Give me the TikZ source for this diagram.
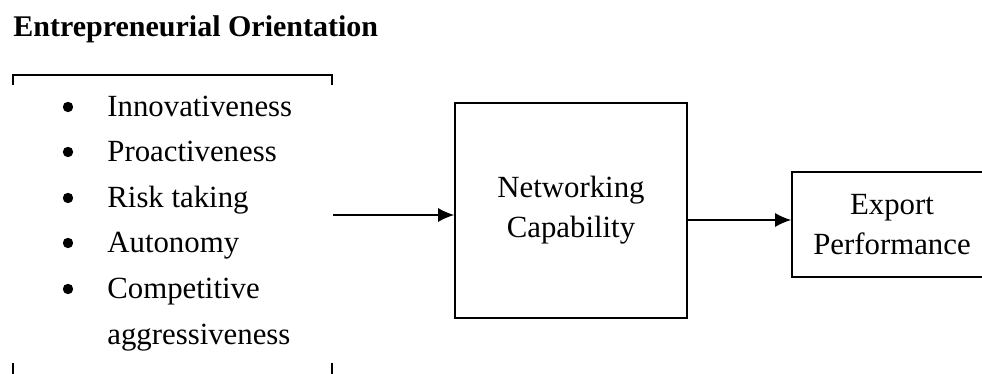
\documentclass[tikz,border=0pt]{standalone}
\usepackage{fontspec}
\setmainfont{Liberation Serif}
\usetikzlibrary{arrows.meta}
\begin{document}
\begin{tikzpicture}[x=0.5pt,y=-0.5pt,
  every node/.style={inner sep=0pt, font=\fontsize{15.4}{20}\selectfont},
  item/.style={anchor=base west},
  bul/.style={circle, fill, inner sep=0pt, minimum size=5.2pt},
  boxnode/.style={draw, line width=0.8pt, align=center},
  line/.style={line width=0.8pt},
  arr/.style={line width=0.8pt, -{Latex[length=8pt,width=7pt]}}]
\useasboundingbox (0,0) rectangle (982,374);
\clip (0,0) rectangle (982,374);
\node[anchor=base west, font=\fontsize{15}{20}\selectfont\bfseries] (title) at (13,37) {Entrepreneurial Orientation};
% bracket box
\coordinate (tl) at (13,75);
\coordinate (tr) at (332,75);
\coordinate (bl) at (13,363);
\coordinate (br) at (332,363);
\draw[line] ([yshift=-5pt]tl) -- (tl) -- (tr) -- ([yshift=-5pt]tr);
\draw[line] (bl) -- ([yshift=-8pt]bl);
\draw[line] (br) -- ([yshift=-8pt]br);
% items
\node[bul] (b1) at (68,107) {};
\node[item] (i1) at (107,117) {Innovativeness};
\node[bul] (b2) at (68,152) {};
\node[item] (i2) at (107,162) {Proactiveness};
\node[bul] (b3) at (68,198) {};
\node[item] (i3) at (107,208) {Risk taking};
\node[bul] (b4) at (68,243) {};
\node[item] (i4) at (107,253) {Autonomy};
\node[bul] (b5) at (68,289) {};
\node[item] (i5) at (107,299) {Competitive};
\node[item] (i6) at (107,344) {aggressiveness};
% boxes
\node[boxnode, minimum width=116pt, minimum height=107.5pt] (net) at (571,210.5) {Networking\\Capability};
\node[boxnode, minimum width=100pt, minimum height=52.5pt] (exp) at (892,224.5) {Export\\Performance};
% arrows
\coordinate (a1) at (333,215);
\coordinate (a2) at (687,220);
\draw[arr] (a1) -- (net.west |- a1);
\draw[arr] (net.east |- a2) -- (exp.west |- a2);
\end{tikzpicture}
\end{document}
